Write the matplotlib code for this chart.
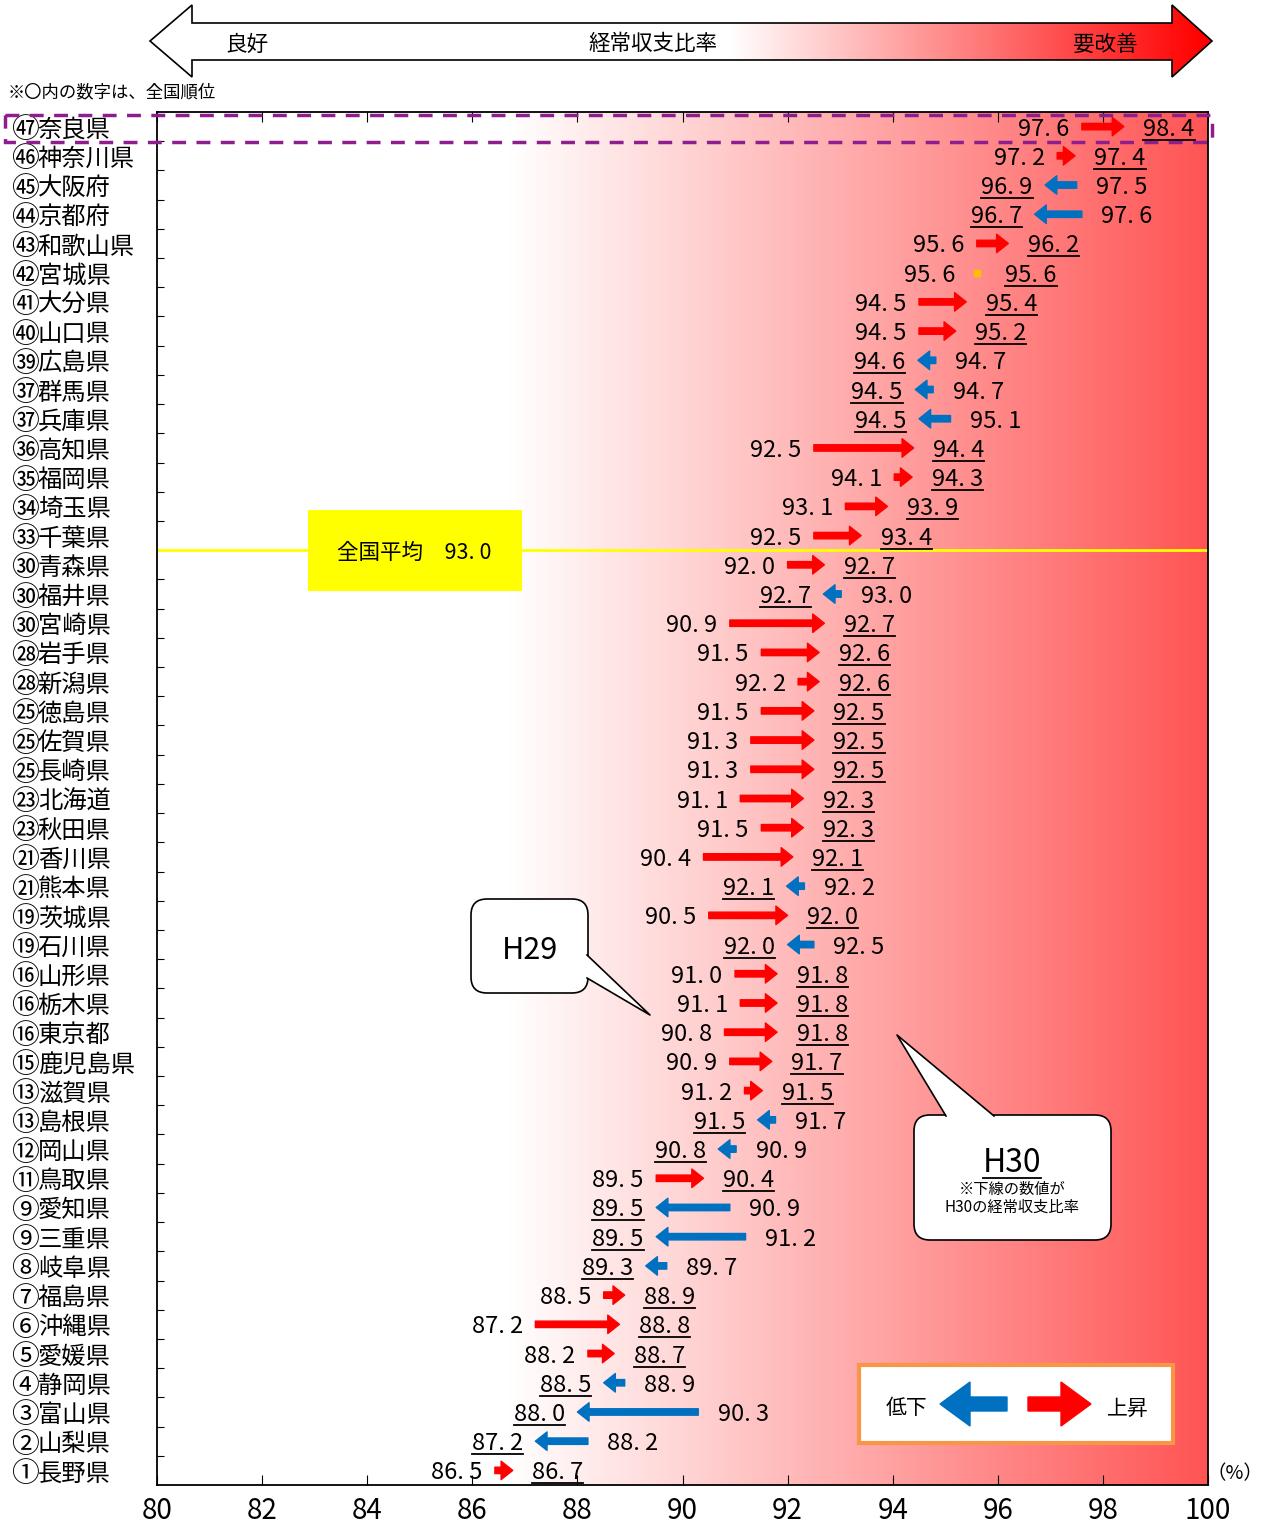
import matplotlib.pyplot as plt
import matplotlib.patches as mpatches
from matplotlib.lines import Line2D
import numpy as np

plt.rcParams['font.family'] = ['Noto Sans CJK JP', 'DejaVu Sans']

# データ（上から順位の低い順）
ranks = ['㊼', '㊻', '㊺', '㊹', '㊸', '㊷', '㊶', '㊵', '㊴', '㊲', '㊲', '㊱', '㉟', '㉞', '㉝',
         '㉚', '㉚', '㉚', '㉘', '㉘', '㉕', '㉕', '㉕', '㉓', '㉓', '㉑', '㉑', '⑲', '⑲',
         '⑯', '⑯', '⑯', '⑮', '⑬', '⑬', '⑫', '⑪', '⑨', '⑨', '⑧', '⑦', '⑥', '⑤', '④',
         '③', '②', '①']
prefs = ['奈良県', '神奈川県', '大阪府', '京都府', '和歌山県', '宮城県', '大分県', '山口県',
         '広島県', '群馬県', '兵庫県', '高知県', '福岡県', '埼玉県', '千葉県',
         '青森県', '福井県', '宮崎県', '岩手県', '新潟県', '徳島県', '佐賀県', '長崎県',
         '北海道', '秋田県', '香川県', '熊本県', '茨城県', '石川県',
         '山形県', '栃木県', '東京都', '鹿児島県', '滋賀県', '島根県', '岡山県', '鳥取県',
         '愛知県', '三重県', '岐阜県', '福島県', '沖縄県', '愛媛県', '静岡県',
         '富山県', '山梨県', '長野県']
h29 = [97.6, 97.2, 97.5, 97.6, 95.6, 95.6, 94.5, 94.5, 94.7, 94.7, 95.1, 92.5, 94.1, 93.1, 92.5,
       92.0, 93.0, 90.9, 91.5, 92.2, 91.5, 91.3, 91.3, 91.1, 91.5, 90.4, 92.2, 90.5, 92.5,
       91.0, 91.1, 90.8, 90.9, 91.2, 91.7, 90.9, 89.5, 90.9, 91.2, 89.7, 88.5, 87.2, 88.2, 88.9,
       90.3, 88.2, 86.5]
h30 = [98.4, 97.4, 96.9, 96.7, 96.2, 95.6, 95.4, 95.2, 94.6, 94.5, 94.5, 94.4, 94.3, 93.9, 93.4,
       92.7, 92.7, 92.7, 92.6, 92.6, 92.5, 92.5, 92.5, 92.3, 92.3, 92.1, 92.1, 92.0, 92.0,
       91.8, 91.8, 91.8, 91.7, 91.5, 91.5, 90.8, 90.4, 89.5, 89.5, 89.3, 88.9, 88.8, 88.7, 88.5,
       88.0, 87.2, 86.7]
national_avg = 93.0
x_ticks = list(range(80, 101, 2))

RED = '#FF0000'
BLUE = '#0070C0'
W, H = 1263, 1528

fig = plt.figure(figsize=(W / 100, H / 100), dpi=100)
ax = fig.add_axes([157 / W, 1 - 1485 / H, 1051 / W, 1373 / H])
n = len(prefs)
ax.set_xlim(80, 100)
ax.set_ylim(n - 0.5, -0.5)

# 背景グラデーション
xs = np.linspace(80, 100, 400)
t = np.clip((xs - 86.7) / 13.3, 0, 1)
grad = np.ones((1, len(xs), 3))
grad[0, :, 1] = 1 - 0.67 * t
grad[0, :, 2] = 1 - 0.67 * t
ax.imshow(grad, extent=[80, 100, n - 0.5, -0.5], aspect='auto', zorder=0)

# 軸
ax.set_xticks(x_ticks)
ax.set_xticklabels([str(v) for v in x_ticks], fontsize=20)
ax.tick_params(axis='x', direction='in', top=True, length=7, pad=8)
ax.set_yticks(np.arange(n - 1) + 0.5)
ax.set_yticklabels([])
ax.tick_params(axis='y', direction='in', length=5)
for s in ax.spines.values():
    s.set_linewidth(1.3)

# 都道府県名
for i, (r, p) in enumerate(zip(ranks, prefs)):
    ax.text(-0.1385, i, r, transform=ax.get_yaxis_transform(), ha='left',
            va='center_baseline', fontsize=20, clip_on=False)
    ax.text(-0.1135, i, p, transform=ax.get_yaxis_transform(), ha='left',
            va='center_baseline', fontsize=17.5, clip_on=False)

# 全国平均線
y_avg = next(i for i, v in enumerate(h30) if v < national_avg) - 0.5
ax.axhline(y_avg, color='#FFFF00', lw=2, zorder=2)
ax.add_patch(mpatches.Rectangle((82.87, y_avg - 1.36), 4.07, 2.77, facecolor='#FFFF00',
                                edgecolor='none', zorder=3))
ax.text(84.9, y_avg, '全国平均　' + f'{national_avg:.1f}'.replace('.', '. '), ha='center',
        va='center_baseline', fontsize=15.5, zorder=4)

# 矢印と数値
def fmt(v):
    return f'{v:.1f}'.replace('.', '. ')

underlined = []
for i, (a, b) in enumerate(zip(h29, h30)):
    d = b - a
    mid = (a + b) / 2
    half = max(abs(d) / 2, 0.17)
    lo, hi = mid - half, mid + half
    if d == 0:
        ax.plot(mid, i, marker='s', color='#FFC000', markersize=5, zorder=5)
        left_v, right_v, left_u = a, b, False
    else:
        color = RED if d > 0 else BLUE
        start, end = (lo, hi) if d > 0 else (hi, lo)
        ax.annotate('', xy=(end, i), xytext=(start, i), zorder=5,
                    arrowprops=dict(arrowstyle='simple,head_length=0.6,head_width=0.95,tail_width=0.33',
                                    color=color, shrinkA=0, shrinkB=0, mutation_scale=14))
        if d > 0:
            left_v, right_v, left_u = a, b, False
        else:
            left_v, right_v, left_u = b, a, True
    tl = ax.annotate(fmt(left_v), xy=(lo, i), xytext=(-9, 0), textcoords='offset points',
                     ha='right', va='center_baseline', fontsize=17, zorder=6)
    tr = ax.annotate(fmt(right_v), xy=(hi, i), xytext=(14, 0), textcoords='offset points',
                     ha='left', va='center_baseline', fontsize=17, zorder=6)
    underlined.append(tl if left_u else tr)

# 上部・注記用のオーバーレイ（ピクセル座標）
ov = fig.add_axes([0, 0, 1, 1])
ov.patch.set_alpha(0)

# 上部の両矢印
pts = [(150, 41), (192, 5), (192, 23), (1172, 23), (1172, 5), (1212, 41), (1172, 77),
       (1172, 60), (192, 60), (192, 77)]
poly = mpatches.Polygon(pts, closed=True, facecolor='none', edgecolor='black', lw=1.2, zorder=3)
ov.add_patch(poly)
hx = np.linspace(150, 1212, 500)
ht = np.clip((hx - 730) / (1205 - 730), 0, 1)
hgrad = np.ones((1, len(hx), 3))
hgrad[0, :, 1] = 1 - ht
hgrad[0, :, 2] = 1 - ht
im = ov.imshow(hgrad, extent=[150, 1212, 77, 5], aspect='auto', zorder=2)
im.set_clip_path(poly)
ov.set_xlim(0, W)
ov.set_ylim(H, 0)
ov.axis('off')
ov.text(247, 42, '良好', ha='center', va='center_baseline', fontsize=15.5, zorder=4)
ov.text(653, 42, '経常収支比率', ha='center', va='center_baseline', fontsize=15.5, zorder=4)
ov.text(1105, 42, '要改善', ha='center', va='center_baseline', fontsize=15.5, zorder=4)
ov.text(8, 90, '※〇内の数字は、全国順位', ha='left', va='center_baseline', fontsize=12.5)

# 奈良県の強調枠
ov.add_patch(mpatches.Rectangle((5, 115), 1207, 27, facecolor='none', edgecolor='#8E1E8E',
                                lw=2.5, linestyle=(0, (4, 3)), zorder=6))

# 吹き出し
def callout(x, y, w, h, base, tip):
    ov.add_patch(mpatches.FancyBboxPatch((x, y), w, h, boxstyle='round,pad=0,rounding_size=16',
                                         facecolor='white', edgecolor='black', lw=1.2, zorder=7))
    ov.add_patch(mpatches.Polygon([base[0], tip, base[1]], closed=True, facecolor='white',
                                  edgecolor='none', zorder=8))
    ov.add_line(Line2D([base[0][0], tip[0], base[1][0]], [base[0][1], tip[1], base[1][1]],
                       color='black', lw=1.2, zorder=9))

callout(471, 899, 117, 94, [(587, 955), (587, 978)], (650, 1015))
ov.text(530, 947, 'H29', ha='center', va='center_baseline', fontsize=22, zorder=10)
callout(914, 1115, 197, 125, [(946, 1116), (994, 1116)], (897, 1035))
h30_title = ov.text(1012, 1159, 'H30', ha='center', va='center_baseline', fontsize=23, zorder=10)
underlined.append(h30_title)
ov.text(1012, 1187, '※下線の数値が', ha='center', va='center_baseline', fontsize=11, zorder=10)
ov.text(1012, 1205, 'H30の経常収支比率', ha='center', va='center_baseline', fontsize=11, zorder=10)

# 凡例
ov.add_patch(mpatches.Rectangle((859, 1365), 314, 78, facecolor='white', edgecolor='#F79646',
                                lw=3, zorder=7))
ov.text(907, 1406, '低下', ha='center', va='center_baseline', fontsize=15, zorder=8)
ov.text(1128, 1406, '上昇', ha='center', va='center_baseline', fontsize=15, zorder=8)
ov.add_patch(mpatches.FancyArrow(1007, 1404, -67, 0, width=14, head_width=44, head_length=30,
                                 length_includes_head=True, color=BLUE, zorder=8))
ov.add_patch(mpatches.FancyArrow(1028, 1404, 63, 0, width=14, head_width=44, head_length=30,
                                 length_includes_head=True, color=RED, zorder=8))
ov.text(1235, 1471, '（%）', ha='center', va='center_baseline', fontsize=14)

# 下線
fig.canvas.draw()
renderer = fig.canvas.get_renderer()
inv = fig.transFigure.inverted()
for txt in underlined:
    bb = txt.get_window_extent(renderer)
    (x0, y0), (x1, _) = inv.transform([(bb.x0, bb.y0 + 1), (bb.x1, bb.y0 + 1)])
    fig.add_artist(Line2D([x0, x1], [y0, y0], color='black', lw=1.3, zorder=20))

fig.savefig('out.png', dpi=100)
